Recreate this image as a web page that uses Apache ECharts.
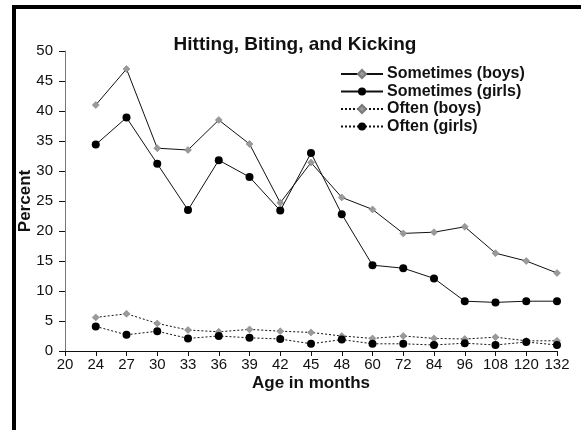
<!DOCTYPE html>
<html>
<head>
<meta charset="utf-8">
<script src="https://cdn.jsdelivr.net/npm/echarts@6/dist/echarts.min.js"></script>
<style>html,body{margin:0;padding:0;background:#fff;}#c{width:581px;height:430px;}</style>
</head>
<body>
<div id="c"></div>
<script>
const ages = ['20','24','27','30','33','36','39','42','45','48','60','72','84','96','108','120','132'];
const sometimesBoys  = [null, 41.0, 47.0, 33.8, 33.5, 38.5, 34.5, 24.7, 31.4, 25.6, 23.6, 19.6, 19.8, 20.7, 16.3, 15.0, 13.0];
const sometimesGirls = [null, 34.4, 38.9, 31.2, 23.5, 31.8, 29.0, 23.4, 33.0, 22.8, 14.3, 13.8, 12.1, 8.3, 8.1, 8.3, 8.3];
const oftenBoys      = [null, 5.6, 6.2, 4.6, 3.5, 3.2, 3.6, 3.3, 3.1, 2.5, 2.1, 2.5, 2.1, 2.0, 2.3, 1.7, 1.7];
const oftenGirls     = [null, 4.1, 2.7, 3.3, 2.1, 2.5, 2.2, 2.0, 1.2, 1.9, 1.2, 1.2, 1.0, 1.3, 1.0, 1.5, 1.0];
const yTicks = [0, 50, 5];

const FONT = 'Liberation Sans, Arial, sans-serif';
const chart = echarts.init(document.getElementById('c'), null, {renderer: 'canvas'});

function mk(name, data, dotted, girls) {
  return {
    name: name, type: 'line', data: data, connectNulls: false,
    symbol: girls ? 'circle' : 'diamond',
    symbolSize: girls ? 8 : 7,
    showAllSymbol: true,
    lineStyle: {color: '#111', width: 1, type: dotted ? [2, 2] : 'solid'},
    itemStyle: {color: girls ? '#000' : '#9a9a9a', borderColor: girls ? '#000' : '#7a7a7a', borderWidth: girls ? 0 : 0.5},
    emphasis: {disabled: true},
    z: girls ? 3 : 2
  };
}

chart.setOption({
  animation: false,
  backgroundColor: '#fff',
  title: {
    text: 'Hitting, Biting, and Kicking',
    left: 290, top: 30, textAlign: 'center',
    textStyle: {fontFamily: FONT, fontSize: 19, fontWeight: 'bold', color: '#111'}
  },
  legend: {
    orient: 'vertical', left: 340, top: 66, padding: 0,
    itemWidth: 42, itemHeight: 10, itemGap: 1.5,
    textStyle: {fontFamily: FONT, fontSize: 16, fontWeight: 'bold', color: '#111', padding: [0, 0, 0, -1]},
    data: ['Sometimes (boys)', 'Sometimes (girls)', 'Often (boys)', 'Often (girls)']
  },
  grid: {left: 65, right: 24, top: 51, bottom: 79, containLabel: false},
  xAxis: {
    type: 'category', data: ages, boundaryGap: false,
    name: 'Age in months', nameLocation: 'middle', nameGap: 24, nameMoveOverlap: false,
    nameTextStyle: {fontFamily: FONT, fontSize: 17, fontWeight: 'bold', color: '#111'},
    axisLine: {lineStyle: {color: '#111', width: 1}},
    axisTick: {show: true, length: 5, lineStyle: {color: '#111'}, alignWithLabel: true},
    axisLabel: {fontFamily: FONT, fontSize: 15, color: '#111', margin: 6, interval: 0},
    splitLine: {show: false}
  },
  yAxis: {
    type: 'value', min: yTicks[0], max: yTicks[1], interval: yTicks[2],
    name: 'Percent', nameLocation: 'middle', nameGap: 31, nameRotate: 90, nameMoveOverlap: false,
    nameTextStyle: {fontFamily: FONT, fontSize: 17, fontWeight: 'bold', color: '#111'},
    axisLine: {show: true, lineStyle: {color: '#777', width: 1}},
    axisTick: {show: true, length: 6, lineStyle: {color: '#111'}},
    axisLabel: {fontFamily: FONT, fontSize: 15, color: '#111', margin: 12},
    splitLine: {show: false}
  },
  graphic: [
    {type: 'rect', shape: {x: 12, y: 5, width: 569, height: 4}, style: {fill: '#000'}, silent: true},
    {type: 'rect', shape: {x: 12, y: 5, width: 4, height: 425}, style: {fill: '#000'}, silent: true}
  ],
  series: [
    mk('Sometimes (boys)', sometimesBoys, false, false),
    mk('Sometimes (girls)', sometimesGirls, false, true),
    mk('Often (boys)', oftenBoys, true, false),
    mk('Often (girls)', oftenGirls, true, true)
  ]
});
</script>
</body>
</html>
